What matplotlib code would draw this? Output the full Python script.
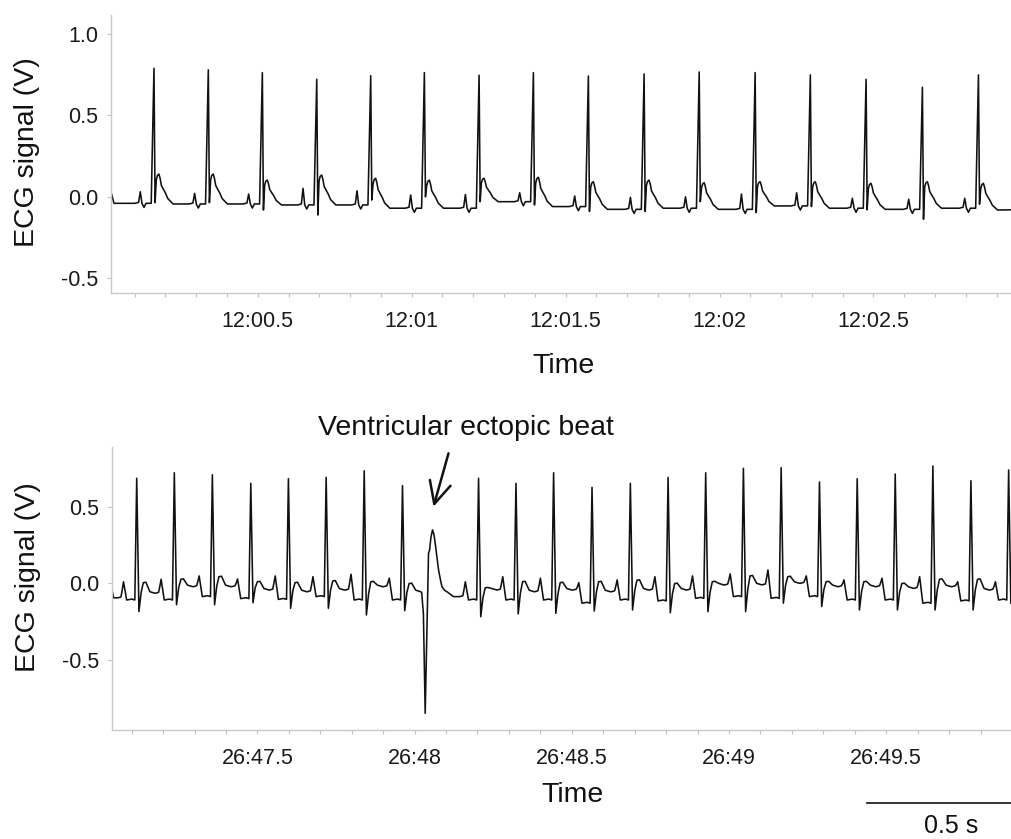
import matplotlib
matplotlib.use("Agg")
import matplotlib.pyplot as plt
from matplotlib.ticker import FixedLocator, MultipleLocator, NullFormatter
from matplotlib.lines import Line2D

plt.rcParams['font.family'] = ['Liberation Sans', 'DejaVu Sans']

# ---------------- data ----------------
# Top recording: time in seconds after 12:00, voltage in V
top_r_time = [0.163, 0.3395, 0.515, 0.6917, 0.867, 1.0413, 1.219, 1.3954,
              1.574, 1.755, 1.934, 2.1157, 2.295, 2.476, 2.659, 2.841]
top_r_amp = [0.79, 0.78, 0.763, 0.722, 0.744, 0.763, 0.747, 0.763,
             0.742, 0.755, 0.767, 0.763, 0.749, 0.722, 0.673, 0.749]
top_s_amp = [-0.036, -0.036, -0.081, -0.112, -0.02, 0.0, -0.03, -0.05,
             -0.09, -0.09, -0.03, -0.097, -0.06, -0.08, -0.138, -0.045]
top_t_amp = [0.14, 0.14, 0.103, 0.134, 0.114, 0.103, 0.114, 0.12,
             0.093, 0.103, 0.087, 0.093, 0.093, 0.083, 0.093, 0.083]
top_p_amp = [0.031, 0.021, 0.017, 0.052, 0.037, 0.011, 0.014, 0.025,
             0.005, -0.003, 0.0, 0.017, 0.025, -0.009, -0.015, -0.009]
top_base = [-0.044, -0.044, -0.05, -0.05, -0.07, -0.07, -0.03, -0.06,
            -0.077, -0.07, -0.077, -0.056, -0.07, -0.077, -0.07, -0.081]
top_start = [(0.0234, 0.03), (0.033, -0.04)]
top_end = [(2.95, -0.08)]
top_xticks = [0.5, 1.0, 1.5, 2.0, 2.5]
top_xticklabels = ["12:00.5", "12:01", "12:01.5", "12:02", "12:02.5"]
top_yticks = [-0.5, 0.0, 0.5, 1.0]
top_yticklabels = ["-0.5", "0.0", "0.5", "1.0"]

# Bottom recording: time in seconds after 26:47, voltage in V
bot_r_time = [0.1162, 0.2358, 0.3568, 0.479, 0.5987, 0.7187, 0.8397, 0.9615,
              1.2034, 1.3224, 1.4421, 1.5643, 1.6862, 1.8062, 1.9258, 2.0458,
              2.1658, 2.2877, 2.4077, 2.5286, 2.6483, 2.7693, 2.8893]
bot_r_amp = [0.685, 0.721, 0.708, 0.652, 0.682, 0.691, 0.734, 0.637,
             0.685, 0.652, 0.721, 0.626, 0.652, 0.691, 0.721, 0.75,
             0.754, 0.661, 0.682, 0.713, 0.765, 0.669, 0.739]
bot_s_amp = [-0.185, -0.14, -0.14, -0.127, -0.163, -0.163, -0.207, -0.179,
             -0.218, -0.2, -0.196, -0.181, -0.174, -0.192, -0.185, -0.185,
             -0.13, -0.152, -0.174, -0.174, -0.174, -0.174, -0.13]
bot_t_amp = [0.004, 0.026, 0.043, 0.01, 0.004, 0.015, 0.01, -0.002,
             -0.03, 0.01, 0.004, 0.01, 0.02, -0.002, 0.01, 0.048,
             0.043, 0.01, 0.01, -0.002, 0.026, 0.026, 0.0]
bot_p_amp = [0.01, 0.026, 0.048, 0.028, 0.048, 0.043, 0.059, 0.033,
             0.01, 0.043, 0.033, 0.004, 0.022, 0.043, 0.048, 0.061,
             0.087, 0.048, 0.022, 0.033, 0.043, 0.01, 0.01]
bot_base = [-0.065, -0.022, -0.022, -0.044, -0.055, -0.044, -0.022, -0.055,
            -0.044, -0.055, -0.044, -0.055, -0.044, -0.044, -0.011, -0.01,
            0.0, -0.022, -0.022, -0.033, -0.022, -0.044, -0.1]
bot_pre = [-0.109, -0.109, -0.087, -0.1, -0.105, -0.087, -0.109, -0.109,
           -0.109, -0.109, -0.109, -0.13, -0.109, -0.115, -0.098, -0.087,
           -0.098, -0.087, -0.109, -0.109, -0.13, -0.115, -0.109]
bot_start = [(0.0376, -0.044), (0.043, -0.095)]
# ventricular ectopic beat, traced point by point
ect_t = [1.0225, 1.028, 1.0337, 1.0443, 1.0475, 1.052, 1.057, 1.0615,
         1.0656, 1.071, 1.076, 1.0815, 1.0869, 1.095, 1.1028, 1.1238]
ect_v = [-0.06, -0.2, -0.848, 0.196, 0.215, 0.30, 0.348, 0.32,
         0.26, 0.17, 0.09, 0.03, -0.022, -0.045, -0.055, -0.087]
bot_xticks = [0.5, 1.0, 1.5, 2.0, 2.5]
bot_xticklabels = ["26:47.5", "26:48", "26:48.5", "26:49", "26:49.5"]
bot_yticks = [-0.5, 0.0, 0.5]
bot_yticklabels = ["-0.5", "0.0", "0.5"]


# ---------------- build traces ----------------
def top_beat(rt, r, s, t, p, bprev, b):
    h = t - b
    pts = [(-0.062, bprev), (-0.05, bprev + 0.006), (-0.0445, p),
           (-0.039, bprev), (-0.0325, bprev - 0.025), (-0.026, bprev),
           (-0.009, bprev), (0.0, r), (0.0035, s), (0.0075, b + 0.8 * h),
           (0.011, b + 0.95 * h), (0.016, t), (0.02, b + 0.85 * h),
           (0.024, b + 0.62 * h), (0.03, b + 0.5 * h), (0.037, b + 0.37 * h),
           (0.045, b + 0.18 * h), (0.062, b)]
    return [(rt + dt, v) for dt, v in pts]


def bot_beat(rt, r, s, t, p, pre, bprev, b):
    pts = [(-0.06, bprev), (-0.05, bprev + 0.006), (-0.046, (bprev + p) / 2),
           (-0.042, p), (-0.037, (p + pre) / 2), (-0.032, pre),
           (-0.015, pre + 0.006), (-0.006, pre), (0.0, r), (0.007, s),
           (0.014, (s + t) / 2 + 0.03), (0.021, t), (0.029, t + 0.003),
           (0.042, b + 0.01), (0.058, b)]
    return [(rt + dt, v) for dt, v in pts]


top_pts = list(top_start)
for i in range(len(top_r_time)):
    bprev = top_base[i - 1] if i > 0 else top_start[-1][1]
    top_pts += top_beat(top_r_time[i], top_r_amp[i], top_s_amp[i],
                        top_t_amp[i], top_p_amp[i], bprev, top_base[i])
top_pts += top_end

bot_pts = list(bot_start)
for i in range(len(bot_r_time)):
    if i == 0:
        bprev = bot_start[-1][1]
    elif bot_r_time[i - 1] < ect_t[0] < bot_r_time[i]:
        bprev = ect_v[-1]
    else:
        bprev = bot_base[i - 1]
    bot_pts += bot_beat(bot_r_time[i], bot_r_amp[i], bot_s_amp[i],
                        bot_t_amp[i], bot_p_amp[i], bot_pre[i], bprev,
                        bot_base[i])
bot_pts += list(zip(ect_t, ect_v))
bot_pts.sort(key=lambda q: q[0])

# ---------------- figure ----------------
W, H = 1012, 839
fig = plt.figure(figsize=(W / 100, H / 100), dpi=100)
ax1 = fig.add_axes([111 / W, 1 - 293 / H, 1 - 111 / W, (293 - 15) / H])
ax2 = fig.add_axes([112 / W, 1 - 730 / H, 1 - 112 / W, (730 - 447) / H])

trace_kw = dict(color='#111111', lw=1.15, solid_joinstyle='round')
ax1.plot([q[0] for q in top_pts], [q[1] for q in top_pts], **trace_kw)
ax2.plot([q[0] for q in bot_pts], [q[1] for q in bot_pts], **trace_kw)

ax1.set_xlim(0.0234, 2.95)
ax1.set_ylim(-0.591, 1.117)
ax2.set_xlim(0.0376, 2.9)
ax2.set_ylim(-0.957, 0.889)

spine_c = '#c8c8c8'
for ax, xt, xtl, yt, ytl in [(ax1, top_xticks, top_xticklabels, top_yticks, top_yticklabels),
                             (ax2, bot_xticks, bot_xticklabels, bot_yticks, bot_yticklabels)]:
    for sp in ('top', 'right'):
        ax.spines[sp].set_visible(False)
    for sp in ('left', 'bottom'):
        ax.spines[sp].set_color(spine_c)
        ax.spines[sp].set_linewidth(1.0)
    ax.xaxis.set_major_locator(FixedLocator(xt))
    ax.set_xticklabels(xtl)
    ax.xaxis.set_minor_locator(MultipleLocator(0.1))
    ax.xaxis.set_minor_formatter(NullFormatter())
    ax.yaxis.set_major_locator(FixedLocator(yt))
    ax.set_yticklabels(ytl)
    ax.tick_params(axis='both', which='both', length=3, width=0.8,
                   color='#c0c0c0', labelcolor='#1a1a1a')
    ax.tick_params(axis='x', which='major', labelsize=15.5, pad=10)
    ax.tick_params(axis='y', which='major', labelsize=15.5, pad=6)
    ax.set_ylabel("ECG signal (V)", fontsize=20.5, color='#111111')
    ax.yaxis.label.set_verticalalignment('center')
    ax.set_xlabel("Time", fontsize=20.5, color='#111111')
    ax.xaxis.label.set_verticalalignment('baseline')

ax1.yaxis.set_label_coords(-0.0932, 0.505)
ax1.xaxis.set_label_coords(0.5017, -0.2878)
ax2.yaxis.set_label_coords(-0.0928, 0.5417)
ax2.xaxis.set_label_coords(0.5122, -0.2534)

# annotation of the ectopic beat
ax2.annotate('', xy=(1.0601, 0.4997), xytext=(1.1079, 0.848),
             arrowprops=dict(arrowstyle='->,head_length=0.45,head_width=0.22',
                             lw=1.8, color='#111111', mutation_scale=35,
                             shrinkA=0, shrinkB=0),
             annotation_clip=False)
ax2.text(1.1642, 0.968, "Ventricular ectopic beat", fontsize=20.5,
         ha='center', va='baseline', color='#111111', clip_on=False)

# 0.5 s scale bar
fig.add_artist(Line2D([867 / W, 1.0], [1 - 803 / H, 1 - 803 / H],
                      transform=fig.transFigure, color='#111111', lw=1.2))
fig.text(950.7 / W, 1 - 833 / H, "0.5 s", fontsize=18, ha='center',
         va='baseline', color='#111111')

fig.savefig("out.png", dpi=100)
